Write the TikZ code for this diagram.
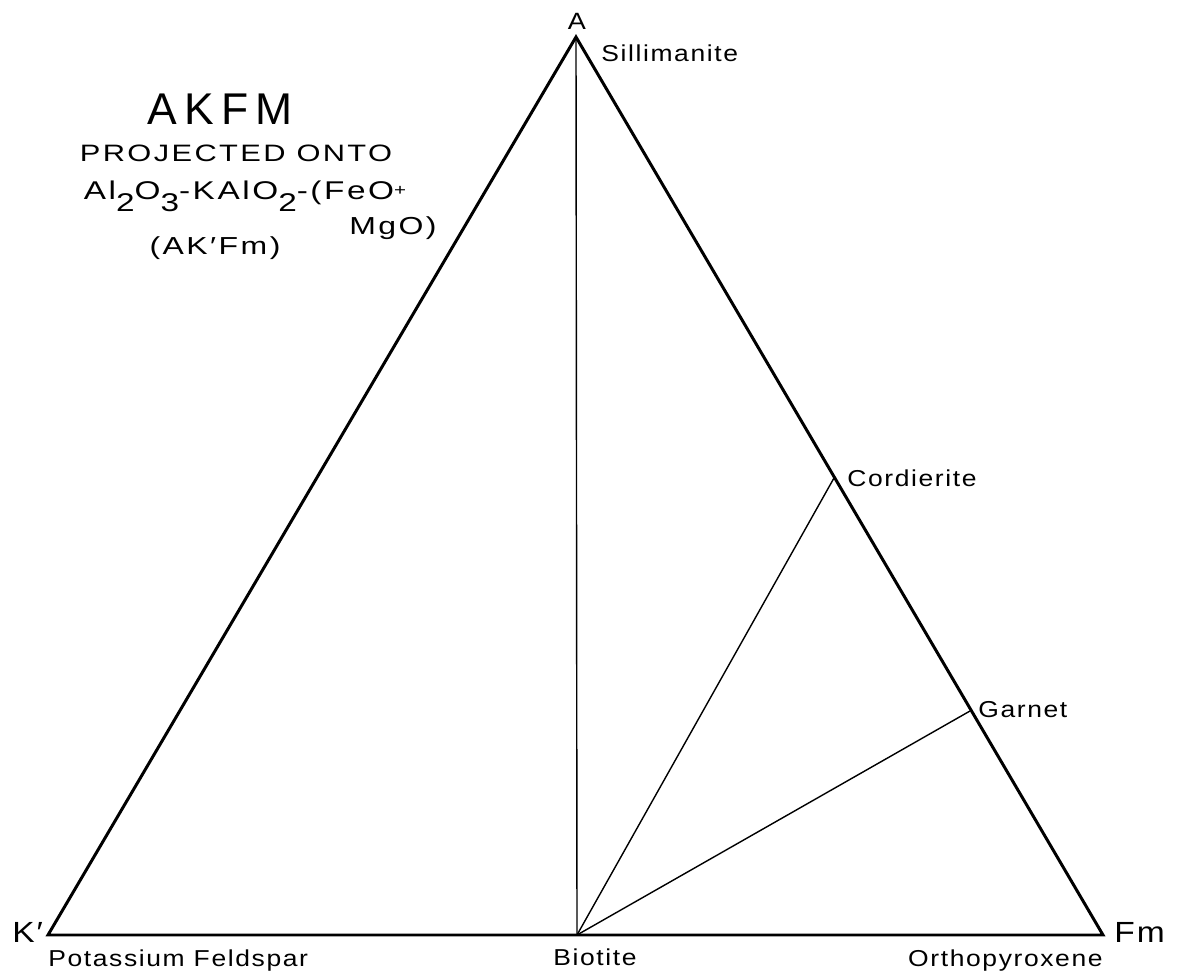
\documentclass[tikz,border=0pt]{standalone}
\usepackage{fontspec}
\setmainfont{Liberation Sans}[FakeStretch=1.15, LetterSpace=7]
\newfontfamily\headfont{Liberation Sans}[FakeStretch=1.3, LetterSpace=10]
\newfontfamily\bigfont{Liberation Sans}[LetterSpace=16]
\usepackage{tikz}
\usetikzlibrary{
  positioning,
}
% drafted subscripts: full size digits set well below the line
\newcommand{\lowdigit}[1]{\raisebox{-6.8pt}{#1}}

\begin{document}
\begin{tikzpicture}[
    x=0.02cm, y=-0.02cm,
    side/.style={line width=1.7pt, line join=miter},
    tie/.style={line width=0.8pt},
    mineral/.style={inner sep=0pt, font=\fontsize{13.1}{15}\selectfont},
    apex/.style={inner sep=0pt, font=\fontsize{16.6}{19}\selectfont},
    title/.style={inner sep=0pt, anchor=base, font=\headfont\fontsize{14}{17}\selectfont},
  ]
  \useasboundingbox (0,0) rectangle (1181,979);

  % corners of the AK'Fm triangle and the tie-line ends
  \coordinate (A) at (576,37);
  \coordinate (K) at (48,935);
  \coordinate (F) at (1103,935);
  \coordinate (B) at (577,935);
  \coordinate (C) at (834,478);
  \coordinate (G) at (970,711);

  \draw[side] (A) -- (F) -- (K) -- cycle;
  \draw[tie] (A) -- (B);
  \draw[tie] (B) -- (C);
  \draw[tie] (B) -- (G);

  % corner letters
  \node[apex, anchor=base, font=\fontsize{13.4}{16}\selectfont] (lA) at (577,30) {A};
  \node[apex, anchor=base west] (lK) at (12,943) {K′};
  \node[apex, anchor=base west] (lF) at (1114,943) {Fm};

  % phases
  \node[mineral, anchor=base west] (sil) at (601,62) {Sillimanite};
  \node[mineral, anchor=base west] (cor) at (847,487) {Cordierite};
  \node[mineral, anchor=base west] (gar) at (978,718) {Garnet};
  \node[mineral, anchor=base west] (ksp) at (48,967) {Potassium Feldspar};
  \node[mineral, anchor=base] (bio) at (595,966) {Biotite};
  \node[mineral, anchor=base east] (opx) at (1103,967) {Orthopyroxene};

  % heading
  \node[title, font=\bigfont\fontsize{25.3}{30}\selectfont] (akfm) at (220,125) {AKFM};
  \node[title, font=\headfont\fontsize{13.5}{16}\selectfont] (proj) at (236,162) {PROJECTED ONTO};
  \node[title, font=\headfont\fontsize{14.6}{17}\selectfont] (comp) at (245,200)
    {Al\lowdigit{2}O\lowdigit{3}-KAlO\lowdigit{2}-(FeO\raisebox{2.5pt}{\fontsize{9}{9}\selectfont+}};
  \node[title] (mgo) at (393,235) {MgO)};
  \node[title] (short) at (215,255) {(AK′Fm)};
\end{tikzpicture}
\end{document}
